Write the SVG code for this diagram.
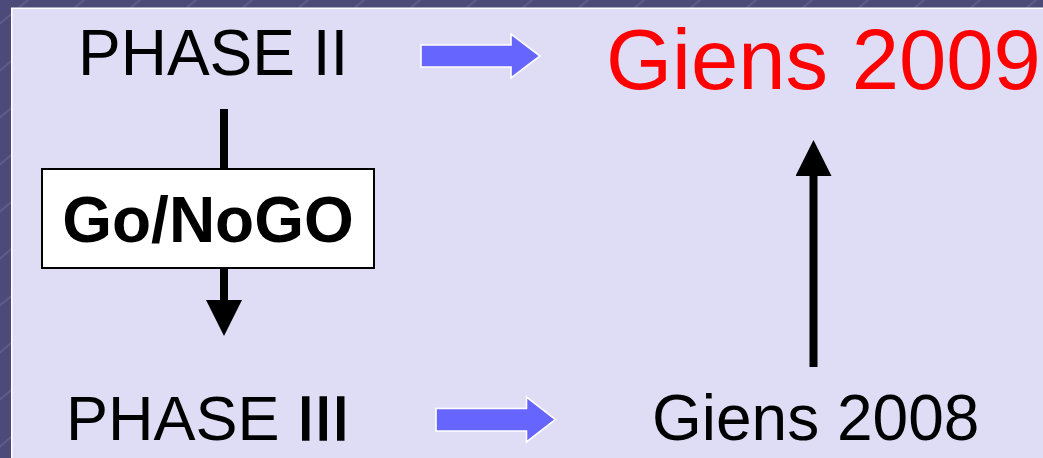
<svg xmlns="http://www.w3.org/2000/svg" width="1043" height="458" viewBox="0 0 1043 458">
  <defs>
    <pattern id="hatch" width="36" height="36" patternUnits="userSpaceOnUse" patternTransform="rotate(-40)">
      <rect width="36" height="36" fill="#4b4a78"/>
      <line x1="0" y1="18" x2="36" y2="18" stroke="#9d9cc4" stroke-width="0.8" stroke-opacity="0.6"/>
    </pattern>
    <marker id="head" viewBox="0 0 36 36" refX="0" refY="18" markerWidth="36" markerHeight="36" markerUnits="userSpaceOnUse" orient="auto">
      <path d="M0,0 L36,18 L0,36 Z" fill="#000"/>
    </marker>
  </defs>
  <style>
    .txt { font-family: "Liberation Sans", Arial, sans-serif; fill: #000; }
    .big { font-size: 64px; }
    .red { fill: #ff0000; font-size: 85px; }
    .bold { font-weight: bold; }
    .heavy { stroke: #000; stroke-width: 1.6; }
    .blue { fill: #6666ff; stroke: #ffffff; stroke-width: 1.6; stroke-linejoin: miter; }
    .conn { stroke: #000; stroke-width: 8; fill: none; }
  </style>

  <!-- slide background: hatched frame with a light panel -->
  <rect x="0" y="0" width="1043" height="458" fill="url(#hatch)"/>
  <rect x="11" y="7.5" width="1040" height="460" fill="#ffffff"/>
  <rect x="12.5" y="9" width="1040" height="460" fill="#dfdcf5"/>

  <g id="connectors">
    <!-- PHASE II to decision box -->
    <line class="conn" x1="224" y1="109" x2="224" y2="169"/>
    <!-- decision box to PHASE III -->
    <line class="conn" x1="224" y1="268" x2="224" y2="300" marker-end="url(#head)"/>
    <!-- Giens 2008 up to Giens 2009 -->
    <line class="conn" x1="813.5" y1="367" x2="813.5" y2="176" marker-end="url(#head)"/>
    <!-- block arrows -->
    <path class="blue" d="M421,45 L511,45 L511,34 L540,56 L511,78 L511,67 L421,67 Z"/>
    <path class="blue" d="M436,408.5 L526.5,408.5 L526.5,397 L555.5,419.5 L526.5,442 L526.5,431 L436,431 Z"/>
  </g>

  <g id="phase2">
    <text class="txt big" x="78" y="75">PHASE II</text>
  </g>

  <g id="gonogo">
    <rect x="42" y="169" width="332" height="99" fill="#ffffff" stroke="#000" stroke-width="2"/>
    <text class="txt big bold" x="208" y="242" text-anchor="middle">Go/NoGO</text>
  </g>

  <g id="phase3">
    <text class="txt" style="font-size:63px" x="66" y="440">PHASE <tspan class="heavy">III</tspan></text>
  </g>

  <g id="giens2009">
    <text class="txt red" x="606" y="89">Giens 2009</text>
  </g>

  <g id="giens2008">
    <text class="txt big" x="652" y="440">Giens 2008</text>
  </g>
</svg>
